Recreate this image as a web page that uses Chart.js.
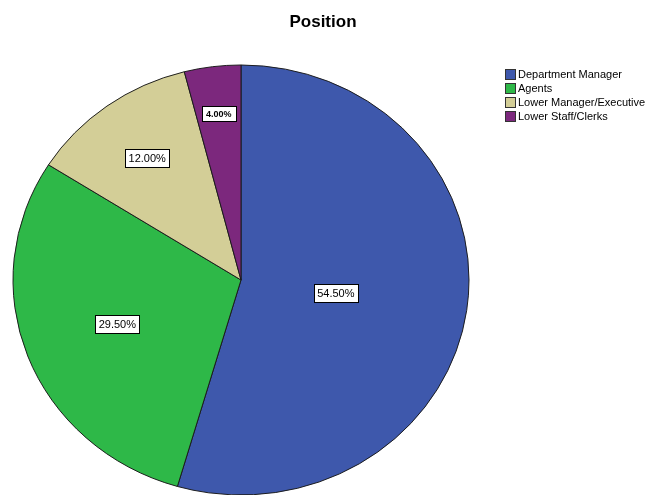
<!DOCTYPE html>
<html>
<head>
<meta charset="utf-8">
<title>Position</title>
<script src="https://cdn.jsdelivr.net/npm/chart.js@4/dist/chart.umd.min.js"></script>
<style>
  body { margin: 0; background: #fff; overflow: hidden; }
  #wrap { width: 665px; height: 495px; }
</style>
</head>
<body>
<div id="wrap"><canvas id="pie" width="665" height="495"></canvas></div>
<script>
const categories = ['Department Manager', 'Agents', 'Lower Manager/Executive', 'Lower Staff/Clerks'];
const percents = [54.5, 29.5, 12.0, 4.0];
const sliceColors = ['#3e58ac', '#2eb848', '#d3ce97', '#7c287d'];

// SPSS draws the pie slightly squashed
const squash = 215 / 228;
// how far out along each slice the value box sits
const labelRadius = [0.42, 0.58, 0.70, 0.78];
const FONT = '"Liberation Sans", Arial, sans-serif';

const ellipsePlugin = {
  id: 'ellipse',
  beforeDatasetsDraw(chart) {
    const arc = chart.getDatasetMeta(0).data[0];
    const ctx = chart.ctx;
    ctx.save();
    ctx.translate(arc.x, arc.y);
    ctx.scale(1, squash);
    ctx.translate(-arc.x, -arc.y);
  },
  afterDatasetsDraw(chart) {
    chart.ctx.restore();
  }
};

const extrasPlugin = {
  id: 'extras',
  afterDraw(chart) {
    const ctx = chart.ctx;
    const meta = chart.getDatasetMeta(0);

    // value boxes
    meta.data.forEach((arc, i) => {
      const p = arc.getProps(['x', 'y', 'startAngle', 'endAngle', 'outerRadius']);
      const mid = (p.startAngle + p.endAngle) / 2;
      const r = p.outerRadius * labelRadius[i];
      const lx = p.x + Math.cos(mid) * r;
      const ly = p.y + Math.sin(mid) * r * squash;
      const txt = percents[i].toFixed(2) + '%';
      const small = percents[i] < 5;
      ctx.font = small ? 'bold 9px ' + FONT : '11px ' + FONT;
      const w = ctx.measureText(txt).width + (small ? 8 : 7);
      const h = small ? 15 : 18;
      ctx.fillStyle = '#fff';
      ctx.fillRect(Math.round(lx - w / 2) + 0.5, Math.round(ly - h / 2) + 0.5, Math.round(w), h);
      ctx.strokeStyle = '#000';
      ctx.lineWidth = 1;
      ctx.strokeRect(Math.round(lx - w / 2) + 0.5, Math.round(ly - h / 2) + 0.5, Math.round(w), h);
      ctx.fillStyle = '#000';
      ctx.textAlign = 'center';
      ctx.textBaseline = 'middle';
      ctx.fillText(txt, lx, ly + 1);
    });

    // title
    ctx.font = 'bold 17px ' + FONT;
    ctx.fillStyle = '#000';
    ctx.textAlign = 'center';
    ctx.textBaseline = 'middle';
    ctx.fillText('Position', 323, 22);

    // legend
    ctx.font = '11px ' + FONT;
    ctx.textAlign = 'left';
    categories.forEach((name, i) => {
      const y = 69 + i * 14;
      ctx.fillStyle = sliceColors[i];
      ctx.fillRect(505.5, y + 0.5, 10, 10);
      ctx.strokeStyle = '#333';
      ctx.strokeRect(505.5, y + 0.5, 10, 10);
      ctx.fillStyle = '#000';
      ctx.fillText(name, 518, y + 6);
    });
  }
};

new Chart(document.getElementById('pie'), {
  type: 'pie',
  data: {
    labels: categories,
    datasets: [{
      data: percents,
      backgroundColor: sliceColors,
      borderColor: '#1a1a1a',
      borderWidth: 1,
      radius: 228
    }]
  },
  options: {
    responsive: false,
    animation: false,
    events: [],
    layout: { padding: { left: 0, right: 183, top: 65, bottom: 0 } },
    plugins: {
      legend: { display: false },
      tooltip: { enabled: false }
    }
  },
  plugins: [ellipsePlugin, extrasPlugin]
});
</script>
</body>
</html>
